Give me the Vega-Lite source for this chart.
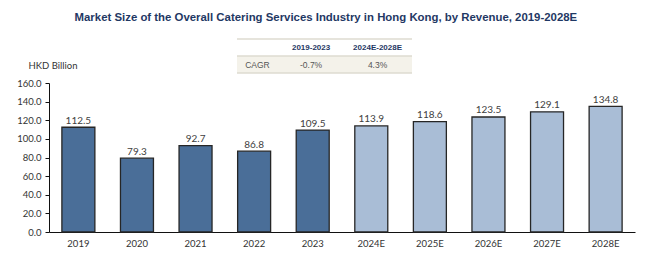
{
  "$schema": "https://vega.github.io/schema/vega-lite/v6.json",
  "background": "white",
  "padding": {"left": 16, "top": 11, "right": 10, "bottom": 10},
  "title": {
    "text": "Market Size of the Overall Catering Services Industry in Hong Kong, by Revenue, 2019-2028E",
    "font": "Liberation Sans",
    "fontSize": 11.4,
    "fontWeight": "bold",
    "color": "#1f3864",
    "anchor": "middle",
    "offset": 15
  },
  "center": true,
  "spacing": -14,
  "config": {
    "view": {"stroke": null},
    "axis": {"labelFont": "Lato", "titleFont": "Lato"}
  },
  "vconcat": [
    {
      "width": 210,
      "height": 34,
      "data": {
        "values": [
          {"row": "head", "col": "2019-2023", "text": "2019-2023"},
          {"row": "head", "col": "2024E-2028E", "text": "2024E-2028E"},
          {"row": "CAGR", "col": "CAGR", "text": "CAGR"},
          {"row": "CAGR", "col": "2019-2023", "text": "-0.7%"},
          {"row": "CAGR", "col": "2024E-2028E", "text": "4.3%"}
        ]
      },
      "encoding": {
        "y": {
          "field": "row",
          "type": "nominal",
          "scale": {"type": "band", "domain": ["head", "CAGR"], "paddingInner": 0, "paddingOuter": 0},
          "axis": null
        }
      },
      "resolve": {"scale": {"x": "shared"}},
      "layer": [
        {
          "data": {"values": [{"row": "CAGR", "from": "CAGR", "to": "2024E-2028E"}]},
          "mark": {"type": "rect", "fill": "#f4f2ea"},
          "encoding": {
            "x": {"field": "from", "type": "nominal", "bandPosition": 0, "scale": {"type": "band", "domain": ["CAGR", "2019-2023", "2024E-2028E"], "paddingInner": 0, "paddingOuter": 0.3, "align": 0}, "axis": null},
            "x2": {"field": "to", "bandPosition": 1}
          }
        },
        {
          "data": {"values": [{"row": "head", "from": "CAGR", "to": "2024E-2028E"}, {"row": "CAGR", "from": "CAGR", "to": "2024E-2028E"}]},
          "mark": {"type": "rule", "stroke": "#dedbd0", "strokeWidth": 1.5},
          "encoding": {
            "x": {"field": "from", "type": "nominal", "bandPosition": 0},
            "x2": {"field": "to", "bandPosition": 1},
            "y": {"field": "row", "type": "nominal", "bandPosition": 0}
          }
        },
        {
          "data": {"values": [{"row": "CAGR", "from": "CAGR", "to": "2024E-2028E"}]},
          "mark": {"type": "rule", "stroke": "#dedbd0", "strokeWidth": 1.5},
          "encoding": {
            "x": {"field": "from", "type": "nominal", "bandPosition": 0},
            "x2": {"field": "to", "bandPosition": 1},
            "y": {"field": "row", "type": "nominal", "bandPosition": 1}
          }
        },
        {
          "transform": [{"filter": "datum.col == 'CAGR'"}],
          "mark": {"type": "text", "align": "left", "font": "Liberation Sans Narrow, Liberation Sans", "fontSize": 8.5, "color": "#555555"},
          "encoding": {
            "x": {"field": "col", "type": "nominal", "bandPosition": 0.14},
            "text": {"field": "text"}
          }
        },
        {
          "transform": [{"filter": "datum.row == 'head' && datum.col == '2019-2023'"}],
          "mark": {"type": "text", "font": "Liberation Sans Narrow, Liberation Sans", "fontSize": 8, "fontWeight": "bold", "color": "#1f3864"},
          "encoding": {
            "x": {"field": "col", "type": "nominal", "bandPosition": 0.27},
            "text": {"field": "text"}
          }
        },
        {
          "transform": [{"filter": "datum.row == 'head' && datum.col == '2024E-2028E'"}],
          "mark": {"type": "text", "font": "Liberation Sans Narrow, Liberation Sans", "fontSize": 8, "fontWeight": "bold", "color": "#1f3864"},
          "encoding": {
            "x": {"field": "col", "type": "nominal", "bandPosition": 0.41},
            "text": {"field": "text"}
          }
        },
        {
          "transform": [{"filter": "datum.row == 'CAGR' && datum.col == '2019-2023'"}],
          "mark": {"type": "text", "font": "Liberation Sans Narrow, Liberation Sans", "fontSize": 8.5, "color": "#555555"},
          "encoding": {
            "x": {"field": "col", "type": "nominal", "bandPosition": 0.27},
            "text": {"field": "text"}
          }
        },
        {
          "transform": [{"filter": "datum.row == 'CAGR' && datum.col == '2024E-2028E'"}],
          "mark": {"type": "text", "font": "Liberation Sans Narrow, Liberation Sans", "fontSize": 8.5, "color": "#555555"},
          "encoding": {
            "x": {"field": "col", "type": "nominal", "bandPosition": 0.41},
            "text": {"field": "text"}
          }
        }
      ]
    },
    {
      "width": 586,
      "height": 149,
      "data": {
        "values": [
          {"year": "2019", "revenue": 112.5, "kind": "Actual"},
          {"year": "2020", "revenue": 79.3, "kind": "Actual"},
          {"year": "2021", "revenue": 92.7, "kind": "Actual"},
          {"year": "2022", "revenue": 86.8, "kind": "Actual"},
          {"year": "2023", "revenue": 109.5, "kind": "Actual"},
          {"year": "2024E", "revenue": 113.9, "kind": "Estimate"},
          {"year": "2025E", "revenue": 118.6, "kind": "Estimate"},
          {"year": "2026E", "revenue": 123.5, "kind": "Estimate"},
          {"year": "2027E", "revenue": 129.1, "kind": "Estimate"},
          {"year": "2028E", "revenue": 134.8, "kind": "Estimate"}
        ]
      },
      "encoding": {
        "x": {
          "field": "year",
          "type": "nominal",
          "sort": null,
          "scale": {"paddingInner": 0.437, "paddingOuter": 0.22},
          "axis": {
            "title": null,
            "labelAngle": 0,
            "ticks": false,
            "labelPadding": 6,
            "labelFontSize": 9.5,
            "labelColor": "#333333",
            "domainColor": "#111111",
            "domainWidth": 1
          }
        },
        "y": {
          "field": "revenue",
          "type": "quantitative",
          "scale": {"domain": [0, 160]},
          "axis": {
            "title": "HKD Billion",
            "titleAngle": 0,
            "titleAlign": "left",
            "titleBaseline": "middle",
            "titleX": -21,
            "titleY": -18,
            "titleFontSize": 9.5,
            "titleFontWeight": "normal",
            "titleColor": "#333333",
            "values": [0, 20, 40, 60, 80, 100, 120, 140, 160],
            "format": ".1f",
            "grid": false,
            "tickSize": 4,
            "tickColor": "#111111",
            "labelPadding": 4,
            "labelFontSize": 9.5,
            "labelColor": "#333333",
            "domainColor": "#111111",
            "domainWidth": 1
          }
        }
      },
      "layer": [
        {
          "mark": {"type": "bar", "stroke": "#262626", "strokeWidth": 1.3},
          "encoding": {
            "color": {
              "field": "kind",
              "type": "nominal",
              "scale": {"domain": ["Actual", "Estimate"], "range": ["#4a6e98", "#a9bdd6"]},
              "legend": null
            }
          }
        },
        {
          "mark": {"type": "text", "baseline": "bottom", "dy": -1.5, "fontSize": 10, "font": "Lato", "color": "#404040"},
          "encoding": {"text": {"field": "revenue", "type": "quantitative", "format": ".1f"}}
        }
      ]
    }
  ]
}
